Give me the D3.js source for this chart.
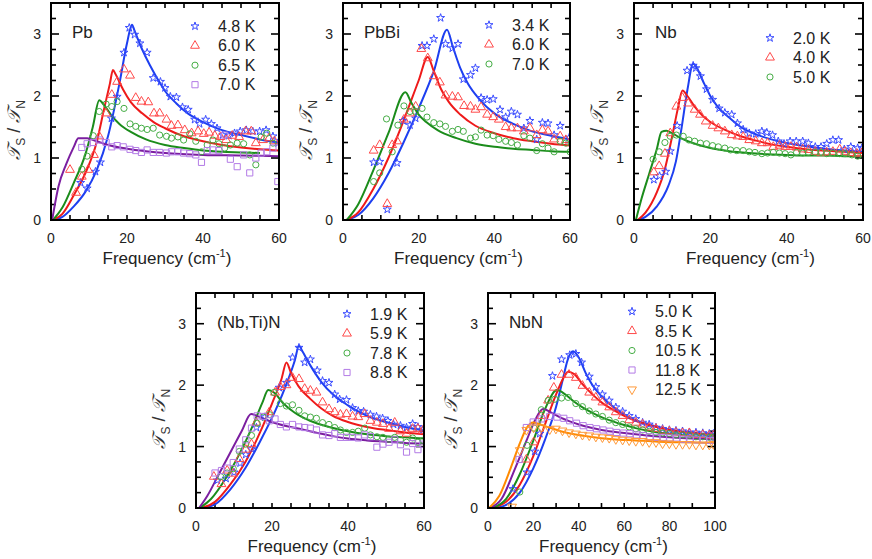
<!DOCTYPE html>
<html>
<head>
<meta charset="utf-8">
<script src="https://cdn.jsdelivr.net/npm/d3@7"></script>
<style>
  body { margin: 0; background: #fff; }
  text { font-family: "Liberation Sans", Arial, sans-serif; }
</style>
</head>
<body>
<div id="chart"></div>
<script>
const width = 872;
const height = 559;

// ---- Pb ----
const pbTemps = ["4.8 K", "6.0 K", "6.5 K", "7.0 K"];
const pb48Pts = [[7.8,0.6],[9.5,0.51],[11.7,0.78],[13.0,0.93],[15.9,1.64],[17.4,1.99],[19.2,2.70],[20.6,3.10],[22.0,2.99],[23.4,2.85],[25.3,2.70],[26.9,2.29],[28.8,2.23],[30.0,2.13],[31.4,1.99],[33.0,1.98],[34.6,1.82],[36.1,1.78],[37.8,1.62],[39.1,1.55],[40.7,1.62],[42.2,1.55],[43.7,1.48],[45.2,1.37],[46.8,1.36],[48.3,1.40],[49.8,1.43],[51.4,1.45],[53.1,1.43],[54.9,1.43],[56.6,1.45],[58.4,1.35],[59.7,1.24]];
const pb60Pts = [[5.0,0.81],[6.6,0.44],[8.1,0.70],[9.8,0.81],[11.3,1.05],[12.7,1.35],[14.5,1.72],[16.0,2.02],[17.4,2.23],[19.2,2.43],[20.8,2.33],[22.3,1.97],[23.8,1.91],[25.6,1.90],[27.1,1.72],[28.6,1.72],[30.4,1.62],[31.7,1.52],[33.4,1.53],[35.2,1.45],[37.0,1.40],[38.7,1.43],[40.2,1.39],[41.6,1.41],[43.1,1.36],[44.6,1.34],[46.1,1.29],[47.7,1.36],[49.5,1.34],[51.2,1.43],[52.7,1.43],[53.9,1.24],[55.8,1.29],[57.4,1.32],[58.8,1.27]];
const pb65Pts = [[8.1,0.82],[9.5,1.03],[11.1,1.36],[12.7,1.75],[14.5,1.87],[16.0,1.83],[17.4,1.91],[19.2,1.80],[20.8,1.55],[22.3,1.51],[23.8,1.48],[25.3,1.46],[26.9,1.48],[28.6,1.37],[30.4,1.35],[31.7,1.32],[33.4,1.34],[34.9,1.29],[36.5,1.39],[38.1,1.27],[39.6,1.10],[41.1,1.21],[42.6,1.29],[44.2,1.23],[45.7,1.16],[47.2,1.21],[49.0,1.24],[50.7,1.23],[52.3,1.05],[53.9,0.89],[55.3,1.34],[56.8,1.40],[58.4,1.24]];
const pb70Pts = [[8.1,1.17],[9.5,1.23],[11.1,1.25],[12.7,1.29],[14.5,1.25],[16.0,1.18],[17.4,1.20],[19.0,1.18],[20.8,1.14],[22.3,1.12],[23.8,1.09],[25.3,1.13],[26.9,1.09],[28.6,1.09],[30.4,1.08],[31.7,1.10],[33.4,1.10],[34.9,1.08],[36.5,1.07],[38.1,1.05],[39.6,0.93],[41.1,1.12],[42.6,1.13],[44.2,1.12],[45.7,1.37],[47.2,0.98],[49.0,0.86],[50.7,1.05],[52.3,0.76],[53.9,1.00],[55.3,1.08],[56.8,1.10],[58.4,1.16],[59.7,0.62]];
const pb48Fit = [[0.5,0],[3,0.05],[6,0.22],[9,0.45],[12,0.8],[15,1.35],[18,2.2],[20,2.85],[21.3,3.15],[22,3.05],[24,2.75],[26,2.5],[28,2.28],[30,2.08],[33,1.88],[36,1.72],[40,1.58],[45,1.45],[50,1.37],[55,1.3],[60,1.25]];
const pb60Fit = [[0.5,0],[3,0.1],[6,0.4],[9,0.75],[12,1.25],[14,1.8],[15.5,2.2],[16.3,2.42],[17,2.35],[19,2.1],[21,1.9],[24,1.72],[27,1.58],[30,1.48],[35,1.35],[40,1.27],[45,1.21],[50,1.17],[55,1.14],[60,1.12]];
const pb65Fit = [[0.5,0],[3,0.2],[6,0.6],[9,1.05],[11,1.5],[12.7,1.93],[14,1.85],[16,1.68],[18,1.55],[21,1.42],[25,1.3],[30,1.21],[35,1.16],[40,1.12],[45,1.1],[50,1.09],[55,1.08]];
const pb70Fit = [[0.3,0],[2,0.55],[4,0.9],[6,1.18],[7.2,1.32],[9.5,1.32],[12,1.27],[15,1.21],[20,1.15],[25,1.11],[30,1.08],[40,1.05],[50,1.04],[60,1.03]];

// ---- PbBi ----
const pbbiTemps = ["3.4 K", "6.0 K", "7.0 K"];
const pbbi34Pts = [[8.1,0.93],[9.7,0.94],[11.7,0.17],[14.3,0.92],[15.9,1.6],[17.7,1.53],[19.2,1.64],[20.9,2.81],[22.2,2.81],[24.0,2.92],[25.8,3.26],[27.1,2.84],[28.9,2.77],[30.4,2.84],[31.8,2.27],[33.7,2.34],[35.0,2.45],[36.5,1.97],[38.1,1.94],[39.7,1.95],[41.5,1.78],[43.0,1.66],[44.5,1.75],[46.1,1.70],[47.8,1.48],[49.4,1.6],[51.2,1.30],[52.7,1.57],[54.2,1.56],[55.8,1.37],[57.4,1.52],[59.8,1.33]];
const pbbi60Pts = [[8.1,1.12],[9.7,1.21],[11.7,0.26],[13.0,1.21],[14.3,1.27],[16.1,1.62],[17.7,1.72],[19.2,1.83],[20.7,2.76],[22.4,2.61],[24.0,2.32],[25.6,2.22],[27.1,2.01],[28.9,1.99],[30.4,1.98],[32.0,1.84],[33.7,1.83],[35.0,1.78],[36.5,1.82],[38.1,1.70],[39.7,1.66],[41.2,1.62],[43.0,1.50],[44.5,1.48],[46.1,1.48],[47.8,1.43],[49.4,1.48],[51.2,1.37],[52.7,1.45],[54.2,1.43],[55.8,1.30],[57.4,1.35],[58.9,1.29]];
const pbbi70Pts = [[8.1,0.62],[9.7,0.76],[11.5,1.63],[13.0,1.10],[14.5,1.53],[16.1,1.84],[17.7,1.75],[19.2,1.75],[20.9,1.80],[22.2,1.66],[24.0,1.57],[25.6,1.55],[27.1,1.51],[28.9,1.43],[30.4,1.46],[31.8,1.43],[33.7,1.32],[35.0,1.34],[36.5,1.45],[38.1,1.37],[39.7,1.36],[41.2,1.30],[43.0,1.27],[44.5,1.25],[46.1,1.21],[47.8,1.36],[49.4,1.32],[51.2,1.12],[52.7,1.23],[54.2,1.16],[55.8,1.10],[57.4,1.27],[58.9,1.24],[60,1.10]];
const pbbi34Fit = [[1,0],[4,0.08],[8,0.35],[12,0.75],[16,1.25],[20,1.8],[24,2.4],[27.5,3.07],[29,2.8],[31,2.45],[33,2.2],[36,1.95],[40,1.72],[45,1.55],[50,1.43],[55,1.36],[60,1.3]];
const pbbi60Fit = [[1,0],[4,0.12],[8,0.5],[12,1.0],[16,1.6],[20,2.25],[22.4,2.63],[24,2.4],[26,2.1],[28,1.9],[31,1.7],[35,1.52],[40,1.4],[45,1.32],[50,1.27],[55,1.23],[60,1.2]];
const pbbi70Fit = [[1,0],[4,0.25],[8,0.8],[12,1.4],[16.5,2.06],[18,1.9],[20,1.7],[22,1.58],[25,1.45],[30,1.32],[35,1.23],[40,1.18],[45,1.15],[50,1.13],[55,1.11],[60,1.1]];

// ---- Nb ----
const nbTemps = ["2.0 K", "4.0 K", "5.0 K"];
const nb20Pts = [[5.2,0.65],[6.7,0.71],[8.3,0.78],[9.5,1.11],[11.3,1.52],[13.9,2.41],[15.5,2.49],[16.2,2.45],[17.4,2.32],[19.0,2.11],[20.6,1.94],[22.3,1.80],[23.8,1.73],[25.6,1.70],[27.1,1.56],[28.6,1.46],[30.2,1.40],[31.9,1.39],[33.5,1.43],[34.8,1.41],[36.3,1.37],[37.8,1.27],[39.3,1.23],[40.9,1.27],[42.5,1.27],[44.2,1.27],[45.7,1.24],[47.5,1.18],[49.0,1.18],[50.5,1.23],[52.1,1.29],[53.6,1.29],[55.1,1.14],[56.8,1.18],[58.6,1.16],[59.7,1.16]];
const nb40Pts = [[5.2,0.77],[6.6,0.87],[8.1,1.07],[9.5,1.40],[11.1,1.83],[12.7,1.97],[14.2,1.88],[15.9,1.78],[17.3,1.70],[18.8,1.59],[20.6,1.52],[22.1,1.48],[23.8,1.43],[25.6,1.37],[27.1,1.35],[28.6,1.34],[30.2,1.29],[31.9,1.27],[33.5,1.24],[35.0,1.24],[36.5,1.18],[38.1,1.20],[39.6,1.18],[41.1,1.18],[42.6,1.17],[44.2,1.14],[45.7,1.13],[47.5,1.10],[49.0,1.08],[50.5,1.09],[52.1,1.10],[53.9,1.14],[55.3,1.10],[56.8,1.08],[58.4,1.07],[59.7,1.08]];
const nb50Pts = [[5.0,0.98],[6.6,1.10],[8.1,1.25],[9.5,1.35],[11.1,1.37],[12.9,1.35],[14.4,1.29],[15.9,1.27],[17.4,1.24],[19.0,1.23],[20.6,1.20],[22.1,1.18],[23.8,1.16],[25.3,1.13],[26.9,1.12],[28.6,1.12],[30.2,1.10],[31.7,1.09],[33.5,1.07],[35.0,1.08],[36.5,1.09],[38.1,1.08],[39.6,1.07],[41.1,1.05],[42.6,1.09],[44.2,1.08],[45.7,1.09],[47.5,1.09],[49.0,1.09],[50.5,1.07],[52.1,1.08],[53.9,1.07],[55.3,1.07],[57.1,1.05],[58.6,1.03]];
const nb20Fit = [[1,0],[3,0.05],[6,0.22],[9,0.55],[11,0.95],[12.5,1.5],[14,2.1],[15.5,2.52],[16.5,2.45],[18,2.25],[20,2.0],[22,1.82],[25,1.65],[28,1.5],[32,1.38],[36,1.3],[40,1.24],[45,1.19],[50,1.15],[55,1.12],[60,1.1]];
const nb40Fit = [[1,0],[3,0.12],[6,0.45],[8,0.8],[10,1.35],[11.5,1.8],[12.7,2.09],[14,2.0],[16,1.82],[18,1.68],[20,1.58],[24,1.45],[28,1.35],[32,1.28],[36,1.22],[40,1.18],[45,1.14],[50,1.12],[55,1.1],[60,1.08]];
const nb50Fit = [[0.5,0],[2,0.35],[4,0.75],[6,1.15],[7.2,1.42],[8.5,1.44],[10,1.4],[12,1.33],[15,1.25],[20,1.16],[25,1.11],[30,1.08],[35,1.06],[40,1.05],[45,1.04],[50,1.04],[55,1.03],[60,1.03]];

// ---- (Nb,Ti)N ----
const nbtinTemps = ["1.9 K", "5.9 K", "7.8 K", "8.8 K"];
const nbtin19Pts = [[5.6,0.45],[7.9,0.48],[10.0,0.58],[11.6,0.73],[13.1,0.87],[14.6,0.96],[15.9,1.31],[18.1,1.48],[21.9,1.96],[23.8,2.04],[25.4,2.45],[27.1,2.61],[28.6,2.37],[30.1,2.42],[31.9,2.24],[33.3,2.07],[35.0,2.04],[36.5,1.85],[37.8,1.77],[39.6,1.76],[41.2,1.63],[42.7,1.58],[44.1,1.57],[45.9,1.52],[47.5,1.49],[49.1,1.46],[50.5,1.42],[52.0,1.36],[53.8,1.34],[55.4,1.31],[57.0,1.37],[58.4,1.32],[59.7,1.27]];
const nbtin59Pts = [[4.7,0.51],[6.7,0.39],[8.2,0.61],[9.8,0.56],[11.4,0.80],[13.1,0.95],[14.6,1.04],[15.9,1.39],[19.3,1.56],[20.8,1.88],[22.2,1.97],[23.8,2.00],[25.4,2.12],[27.1,2.10],[28.6,1.94],[30.1,1.91],[31.7,1.88],[33.3,1.72],[35.0,1.61],[36.5,1.56],[38.0,1.52],[39.6,1.53],[41.2,1.49],[42.7,1.48],[44.4,1.53],[45.9,1.42],[47.6,1.39],[49.2,1.37],[50.8,1.29],[52.3,1.39],[53.8,1.25],[55.4,1.21],[57.0,1.29],[58.4,1.29],[59.7,1.26]];
const nbtin78Pts = [[6.5,0.51],[8.2,0.57],[9.8,0.64],[11.4,0.92],[13.1,1.04],[14.6,1.18],[16.1,1.38],[17.7,1.48],[19.3,1.52],[20.5,1.88],[22.2,1.70],[23.8,1.66],[25.4,1.68],[27.1,1.59],[28.6,1.50],[30.1,1.48],[31.7,1.46],[33.3,1.39],[35.0,1.36],[36.5,1.31],[38.0,1.27],[39.6,1.23],[41.2,1.23],[42.7,1.25],[44.4,1.30],[45.9,1.19],[47.6,1.16],[49.2,1.15],[50.8,1.12],[52.3,1.15],[53.8,1.11],[55.4,1.07],[57.0,1.14],[58.4,1.07],[59.7,1.10]];
const nbtin88Pts = [[5.0,0.57],[6.7,0.61],[8.2,0.65],[9.8,0.74],[11.4,0.96],[13.1,1.11],[14.6,1.30],[16.1,1.50],[17.7,1.49],[19.3,1.42],[20.8,1.45],[22.2,1.36],[23.8,1.32],[25.4,1.36],[27.1,1.32],[28.6,1.31],[30.1,1.30],[31.7,1.27],[33.3,1.19],[35.0,1.18],[36.5,1.21],[38.0,1.15],[39.6,1.15],[41.2,1.15],[42.7,1.14],[44.4,1.19],[45.9,1.16],[47.6,0.99],[49.2,1.04],[50.8,1.07],[52.3,1.11],[53.8,1.03],[55.4,0.91],[57.0,1.05],[58.4,0.95],[59.7,1.04]];
const nbtin19Fit = [[1.5,0],[5,0.06],[9,0.3],[13,0.65],[17,1.1],[21,1.6],[24,2.05],[26,2.4],[27.1,2.64],[28,2.55],[30,2.33],[33,2.05],[36,1.85],[40,1.67],[45,1.5],[50,1.4],[55,1.32],[60,1.26]];
const nbtin59Fit = [[1.5,0],[5,0.1],[9,0.38],[13,0.75],[17,1.25],[20,1.7],[22.5,2.1],[23.8,2.37],[25,2.2],[27,1.98],[30,1.78],[33,1.62],[36,1.5],[40,1.4],[45,1.32],[50,1.27],[55,1.23],[60,1.2]];
const nbtin78Fit = [[1,0],[4,0.15],[8,0.5],[12,0.95],[15,1.35],[17.5,1.72],[19,1.92],[20.5,1.88],[23,1.7],[26,1.55],[30,1.42],[35,1.32],[40,1.25],[45,1.2],[50,1.17],[55,1.15],[60,1.13]];
const nbtin88Fit = [[0.8,0],[3,0.2],[6,0.55],[9,0.9],[12,1.25],[14.5,1.53],[16,1.5],[18,1.45],[20,1.4],[24,1.33],[28,1.28],[32,1.22],[36,1.17],[40,1.13],[45,1.1],[50,1.08],[55,1.06],[60,1.05]];

// ---- NbN ----
const nbnTemps = ["5.0 K", "8.5 K", "10.5 K", "11.8 K", "12.5 K"];
const nbn50Pts = [[11.0,0.31],[17.2,0.58],[20.6,0.92],[22.8,1.21],[28.4,2.15],[32.4,2.42],[36.0,2.49],[38.7,2.51],[41.2,2.37],[44.6,2.14],[47.5,1.97],[50.4,1.85],[53.4,1.75],[56.3,1.64],[59.3,1.57],[62.2,1.50],[65.1,1.45],[68.1,1.39],[71.0,1.36],[74.0,1.31],[76.9,1.29],[79.9,1.27],[82.8,1.26],[85.7,1.25],[88.7,1.23],[91.6,1.23],[94.6,1.22],[97.5,1.21],[99.3,1.21]];
const nbn85Pts = [[16.9,0.79],[20.1,1.07],[23.5,1.50],[26.5,1.75],[29.0,1.96],[32.4,2.17],[35.7,2.17],[38.7,2.12],[41.6,1.99],[44.6,1.88],[47.5,1.80],[50.4,1.72],[53.4,1.64],[56.3,1.56],[59.3,1.50],[62.2,1.43],[65.1,1.39],[68.1,1.36],[71.0,1.31],[74.0,1.29],[76.9,1.26],[79.9,1.25],[82.8,1.23],[85.7,1.22],[88.7,1.22],[91.6,1.19],[94.6,1.19],[97.5,1.18],[99.3,1.18]];
const nbn105Pts = [[14.0,0.26],[17.2,1.02],[20.3,1.30],[23.5,1.60],[26.5,1.75],[29.4,1.77],[32.4,1.79],[35.3,1.80],[38.7,1.70],[41.6,1.65],[44.6,1.58],[47.5,1.53],[50.4,1.49],[53.4,1.43],[56.3,1.39],[59.3,1.36],[62.2,1.32],[65.1,1.29],[68.1,1.27],[71.0,1.25],[74.0,1.23],[76.9,1.22],[79.9,1.21],[82.8,1.19],[85.7,1.19],[88.7,1.18],[91.6,1.16],[94.6,1.16],[97.5,1.15],[99.3,1.15]];
const nbn118Pts = [[13.7,0.79],[16.9,1.31],[19.9,1.40],[23.5,1.45],[27.2,1.49],[30.4,1.48],[33.4,1.46],[36.0,1.42],[39.0,1.38],[41.9,1.34],[44.9,1.31],[47.8,1.29],[50.7,1.27],[53.7,1.25],[56.6,1.23],[59.6,1.22],[62.5,1.21],[65.4,1.19],[68.4,1.18],[71.3,1.16],[74.3,1.15],[77.2,1.15],[80.1,1.14],[83.1,1.14],[86.0,1.12],[89.0,1.12],[91.9,1.11],[94.9,1.11],[97.8,1.10],[99.3,1.10]];
const nbn125Pts = [[10.6,0.02],[14.0,0.94],[16.9,1.27],[20.1,1.31],[23.5,1.31],[27.2,1.28],[29.9,1.29],[32.8,1.26],[35.7,1.23],[38.7,1.21],[41.6,1.19],[44.6,1.18],[47.5,1.16],[50.4,1.15],[53.4,1.14],[56.3,1.12],[59.3,1.11],[62.2,1.10],[65.1,1.09],[68.1,1.09],[71.0,1.07],[74.0,1.07],[76.9,1.05],[79.9,1.05],[82.8,1.04],[85.7,1.04],[88.7,1.04],[91.6,1.03],[94.6,1.03],[97.5,1.03],[99.3,1.04]];
const nbn50Fit = [[3,0],[8,0.05],[14,0.25],[20,0.65],[25,1.1],[30,1.65],[33,2.1],[35,2.4],[37.5,2.55],[40,2.45],[43,2.2],[46,2.0],[50,1.82],[55,1.65],[60,1.52],[65,1.43],[70,1.37],[75,1.32],[80,1.28],[85,1.25],[90,1.23],[95,1.21],[100,1.2]];
const nbn85Fit = [[2,0],[8,0.1],[14,0.38],[20,0.85],[25,1.35],[30,1.85],[33,2.1],[35.3,2.22],[38,2.18],[42,2.0],[46,1.85],[50,1.72],[55,1.6],[60,1.5],[65,1.42],[70,1.36],[75,1.31],[80,1.27],[85,1.24],[90,1.22],[95,1.2],[100,1.19]];
const nbn105Fit = [[2,0],[8,0.15],[14,0.55],[20,1.1],[25,1.6],[30.4,1.92],[34,1.85],[38,1.73],[42,1.63],[46,1.55],[50,1.48],[55,1.41],[60,1.35],[65,1.3],[70,1.26],[75,1.23],[80,1.21],[85,1.19],[90,1.17],[95,1.16],[100,1.15]];
const nbn118Fit = [[1,0],[6,0.15],[12,0.65],[17,1.1],[21,1.45],[24.3,1.61],[28,1.55],[32,1.47],[36,1.41],[40,1.36],[45,1.31],[50,1.27],[60,1.22],[70,1.18],[80,1.15],[90,1.13],[100,1.12]];
const nbn125Fit = [[0.5,0],[5,0.2],[10,0.65],[14,1.05],[17,1.3],[19.9,1.39],[23,1.36],[27,1.31],[32,1.25],[38,1.2],[45,1.16],[55,1.12],[65,1.1],[75,1.08],[85,1.07],[100,1.06]];

// 軸の目盛りラベル
const yTickLabels = [0, 1, 2, 3];
const xTickLabels60 = [0, 20, 40, 60];
const xTickLabels100 = [0, 20, 40, 60, 80, 100];

// 系列ごとの見た目 (青星, 赤三角, 緑丸, 紫四角, 橙逆三角)
const styles = [
    { line: "#1d3ff0", mark: "#3a4cff", shape: d3.symbolStar, size: 20, rot: 0 },
    { line: "#ee1a1a", mark: "#ff4a4a", shape: d3.symbolTriangle, size: 34, rot: 0 },
    { line: "#1b8c1b", mark: "#45ad45", shape: d3.symbolCircle, size: 30, rot: 0 },
    { line: "#7b1ea0", mark: "#b37be6", shape: d3.symbolSquare, size: 38, rot: 0 },
    { line: "#ff8a00", mark: "#ff9a3a", shape: d3.symbolTriangle, size: 34, rot: 180 }
];

const panels = [
    { name: "Pb", left: 51, top: 3, w: 228, h: 217, xMax: 60, xStep: 5, xLabels: xTickLabels60,
      legX: 218, legY: 31.7, temps: pbTemps,
      pts: [pb48Pts, pb60Pts, pb65Pts, pb70Pts], fits: [pb48Fit, pb60Fit, pb65Fit, pb70Fit] },
    { name: "PbBi", left: 343, top: 3, w: 227, h: 217, xMax: 60, xStep: 5, xLabels: xTickLabels60,
      legX: 512, legY: 30.5, temps: pbbiTemps,
      pts: [pbbi34Pts, pbbi60Pts, pbbi70Pts], fits: [pbbi34Fit, pbbi60Fit, pbbi70Fit] },
    { name: "Nb", left: 634, top: 3, w: 229, h: 217, xMax: 60, xStep: 5, xLabels: xTickLabels60,
      legX: 793, legY: 43.5, temps: nbTemps,
      pts: [nb20Pts, nb40Pts, nb50Pts], fits: [nb20Fit, nb40Fit, nb50Fit] },
    { name: "(Nb,Ti)N", left: 196, top: 293, w: 228, h: 215, xMax: 60, xStep: 5, xLabels: xTickLabels60,
      legX: 370, legY: 319.5, temps: nbtinTemps,
      pts: [nbtin19Pts, nbtin59Pts, nbtin78Pts, nbtin88Pts], fits: [nbtin19Fit, nbtin59Fit, nbtin78Fit, nbtin88Fit] },
    { name: "NbN", left: 488, top: 293, w: 227, h: 215, xMax: 100, xStep: 10, xLabels: xTickLabels100,
      legX: 655, legY: 317, temps: nbnTemps,
      pts: [nbn50Pts, nbn85Pts, nbn105Pts, nbn118Pts, nbn125Pts], fits: [nbn50Fit, nbn85Fit, nbn105Fit, nbn118Fit, nbn125Fit] }
];

const svg = d3.select("#chart")
    .append("svg")
    .attr("width", width)
    .attr("height", height)
    .attr("viewBox", `0 0 ${width} ${height}`);

const defs = svg.append("defs");

panels.forEach(function (p, pi) {
    const x = d3.scaleLinear().domain([0, p.xMax]).range([p.left, p.left + p.w]);
    const y = d3.scaleLinear().domain([0, 3.5]).range([p.top + p.h, p.top]);
    const g = svg.append("g");

    defs.append("clipPath").attr("id", "clip" + pi)
        .append("rect")
        .attr("x", p.left).attr("y", p.top)
        .attr("width", p.w).attr("height", p.h);

    // 目盛り (内向き, 4辺)
    const xTicks = d3.range(0, p.xMax + 0.001, p.xStep);
    const yTicks = d3.range(0, 3.5001, 0.25);
    const tickG = g.append("g").attr("stroke", "#000").attr("stroke-width", 1.6);
    xTicks.forEach(function (t) {
        tickG.append("line").attr("x1", x(t)).attr("x2", x(t))
            .attr("y1", p.top + p.h).attr("y2", p.top + p.h - 5);
        tickG.append("line").attr("x1", x(t)).attr("x2", x(t))
            .attr("y1", p.top).attr("y2", p.top + 5);
    });
    yTicks.forEach(function (t) {
        const len = Number.isInteger(t) ? 8 : 5;
        tickG.append("line").attr("x1", p.left).attr("x2", p.left + len)
            .attr("y1", y(t)).attr("y2", y(t));
        tickG.append("line").attr("x1", p.left + p.w).attr("x2", p.left + p.w - len)
            .attr("y1", y(t)).attr("y2", y(t));
    });

    // 目盛りラベル
    g.selectAll(".xl").data(p.xLabels).enter().append("text")
        .attr("x", d => x(d)).attr("y", p.top + p.h + 23)
        .attr("text-anchor", "middle").attr("font-size", 14).attr("fill", "#222")
        .text(d => d);
    g.selectAll(".yl").data(yTickLabels).enter().append("text")
        .attr("x", p.left - 10).attr("y", d => y(d) + 5)
        .attr("text-anchor", "end").attr("font-size", 14).attr("fill", "#222")
        .text(d => d);

    // 軸タイトル
    const xt = g.append("text")
        .attr("x", p.left + p.w / 2 + 2).attr("y", p.top + p.h + 44)
        .attr("text-anchor", "middle").attr("font-size", 17).attr("fill", "#222");
    xt.append("tspan").text("Frequency (cm");
    xt.append("tspan").attr("dy", -7).attr("font-size", 11).text("-1");
    xt.append("tspan").attr("dy", 7).text(")");

    const yt = g.append("text")
        .attr("transform", `translate(${p.left - 31},${p.top + p.h * 0.585}) rotate(-90)`)
        .attr("text-anchor", "middle").attr("font-size", 18).attr("fill", "#333");
    yt.append("tspan").attr("font-family", "DejaVu Serif").attr("font-style", "italic").text("\u{1D4AF}");
    yt.append("tspan").attr("dy", 5).attr("font-size", 12).text("S");
    yt.append("tspan").attr("dy", -5).text(" / ");
    yt.append("tspan").attr("font-family", "DejaVu Serif").attr("font-style", "italic").text("\u{1D4AF}");
    yt.append("tspan").attr("dy", 5).attr("font-size", 12).text("N");

    // フィット曲線とデータ点
    const plot = g.append("g").attr("clip-path", `url(#clip${pi})`);
    const line = d3.line().x(d => x(d[0])).y(d => y(d[1])).curve(d3.curveMonotoneX);
    p.fits.forEach(function (fit, si) {
        plot.append("path").datum(fit)
            .attr("d", line).attr("fill", "none")
            .attr("stroke", styles[si].line).attr("stroke-width", 2);
    });
    p.pts.forEach(function (pts, si) {
        const st = styles[si];
        const sym = d3.symbol().type(st.shape).size(st.size);
        plot.selectAll(".m" + si).data(pts).enter().append("path")
            .attr("d", sym)
            .attr("transform", d => `translate(${x(d[0])},${y(d[1])}) rotate(${st.rot})`)
            .attr("fill", "none").attr("stroke", st.mark).attr("stroke-width", 1);
    });

    // 凡例
    p.temps.forEach(function (label, si) {
        const st = styles[si];
        const yy = p.legY + si * 19.5;
        g.append("path")
            .attr("d", d3.symbol().type(st.shape).size(st.size)())
            .attr("transform", `translate(${p.legX - 23},${yy - 5.5}) rotate(${st.rot})`)
            .attr("fill", "none").attr("stroke", st.mark).attr("stroke-width", 1);
        g.append("text").attr("x", p.legX).attr("y", yy)
            .attr("font-size", 16).attr("fill", "#222").text(label);
    });

    // 名前
    g.append("text").attr("x", p.left + 21).attr("y", p.top + 35)
        .attr("font-size", 17).attr("fill", "#222").text(p.name);

    // 枠
    g.append("rect")
        .attr("x", p.left).attr("y", p.top)
        .attr("width", p.w).attr("height", p.h)
        .attr("fill", "none").attr("stroke", "#000").attr("stroke-width", 2);
});
</script>
</body>
</html>
